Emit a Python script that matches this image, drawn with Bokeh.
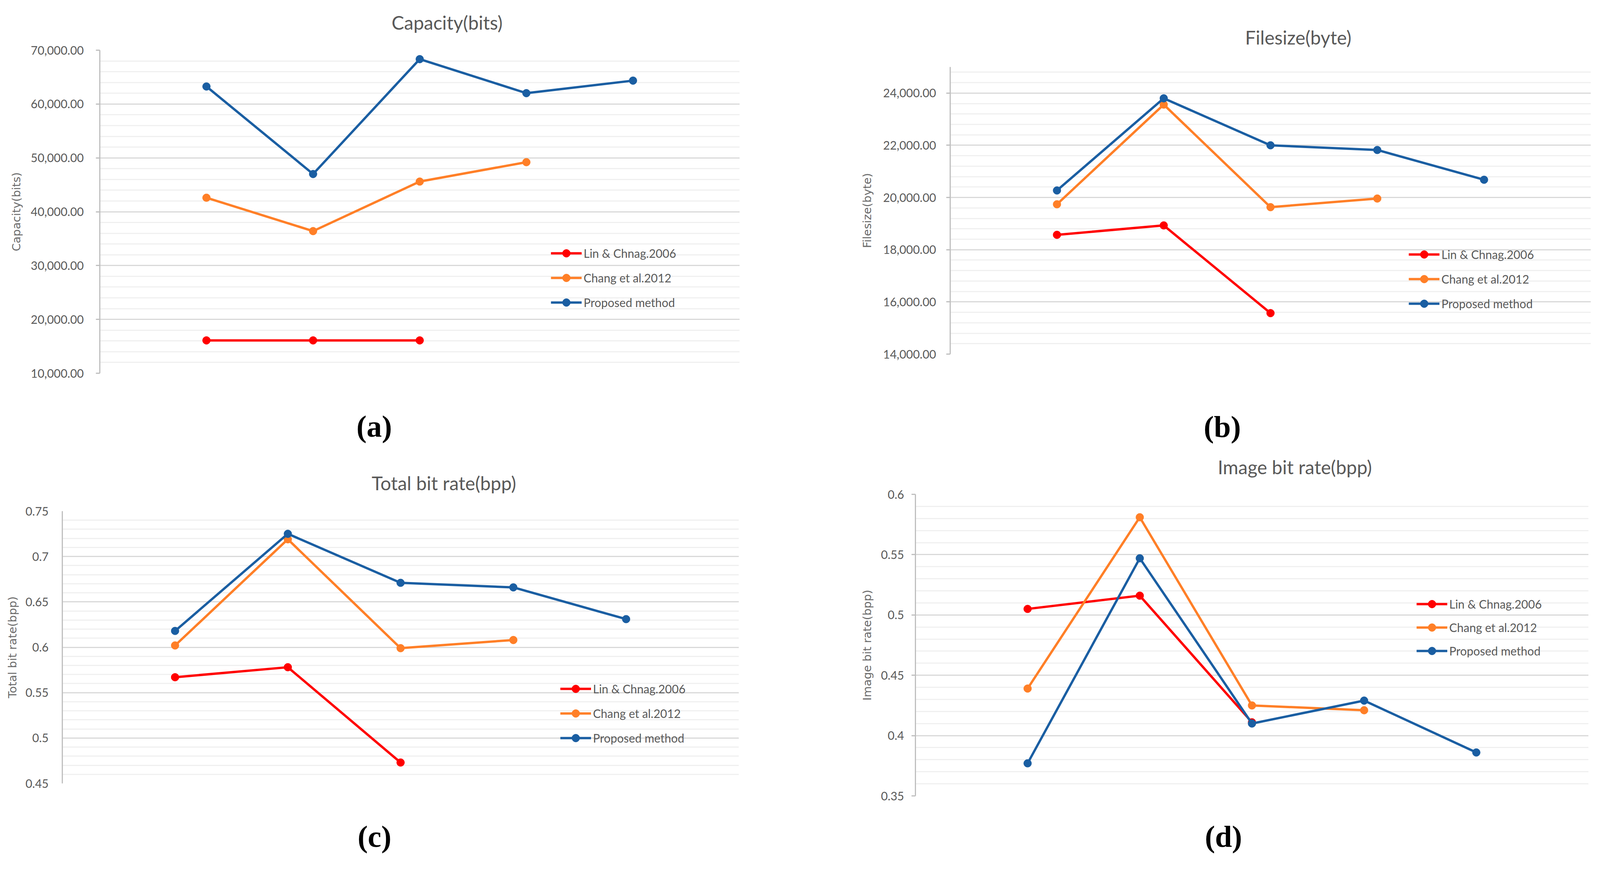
from bokeh.plotting import figure
from bokeh.models import (Range1d, FixedTicker, NumeralTickFormatter, CustomJSTickFormatter,
                          Legend, LegendItem, Title)
from bokeh.layouts import column, row
from bokeh.embed import file_html
from bokeh.resources import INLINE

# ---------------- data ----------------
images = [1, 2, 3, 4, 5]
series_names = ["Lin & Chnag.2006", "Chang et al.2012", "Proposed method"]
series_colors = ["#FF0000", "#FF7F27", "#1A5EA2"]

capacity_lin = [16100, 16100, 16100]
capacity_chang = [42600, 36400, 45600, 49200]
capacity_proposed = [63260, 47000, 68340, 62020, 64350]

filesize_lin = [18570, 18930, 15570]
filesize_chang = [19740, 23560, 19630, 19960]
filesize_proposed = [20270, 23800, 22000, 21820, 20680]

total_bpp_lin = [0.567, 0.578, 0.473]
total_bpp_chang = [0.602, 0.719, 0.599, 0.608]
total_bpp_proposed = [0.618, 0.725, 0.671, 0.666, 0.631]

image_bpp_lin = [0.505, 0.516, 0.411]
image_bpp_chang = [0.439, 0.581, 0.425, 0.421]
image_bpp_proposed = [0.377, 0.547, 0.410, 0.429, 0.386]

panel_titles = ["Capacity(bits)", "Filesize(byte)", "Total bit rate(bpp)", "Image bit rate(bpp)"]
panel_captions = ["(a)", "(b)", "(c)", "(d)"]

capacity_ticks = [10000, 20000, 30000, 40000, 50000, 60000, 70000]
filesize_ticks = [14000, 16000, 18000, 20000, 22000, 24000]
total_bpp_ticks = [0.45, 0.5, 0.55, 0.6, 0.65, 0.7, 0.75]
image_bpp_ticks = [0.35, 0.4, 0.45, 0.5, 0.55, 0.6]

GREY = "#595959"
TXT_FONT = "Lato"


def minor_list(start, stop, step, nd):
    out = []
    v = start
    while v <= stop + step * 1e-6:
        out.append(round(v, nd))
        v += step
    return out


def spacer(gap):
    return Title(text=" ", text_font_size="1px", standoff=gap, text_color="white")


def make_panel(width, height, frame, yr, ticks, minors, fmt, series, ytitle, title,
               title_off, title_gap, caption, caption_off, caption_gap,
               legend_loc, legend_spacing, tick_out, label_standoff, axis_standoff):
    fl, ft, fr, fb = frame
    p = figure(width=width, height=height, x_range=Range1d(0, 6), y_range=Range1d(*yr),
               output_backend="svg", toolbar_location=None,
               min_border_left=fl, min_border_top=ft,
               min_border_right=width - fr, min_border_bottom=height - fb)
    p.frame_align = False
    p.outline_line_color = None
    p.background_fill_color = "white"
    p.border_fill_color = "white"

    # spacer next to the frame, then the real title outside it
    p.add_layout(spacer(title_gap), "above")
    p.title = Title(text=title, align="left", offset=title_off, standoff=10,
                    vertical_align="bottom",
                    text_font=TXT_FONT, text_font_size="48px", text_font_style="normal",
                    text_color=GREY)
    p.add_layout(spacer(caption_gap), "below")
    p.add_layout(Title(text=caption, align="left", offset=caption_off,
                       standoff=10, vertical_align="top",
                       text_font="Liberation Serif", text_font_style="bold",
                       text_font_size="78px", text_color="black"), "below")

    tk = FixedTicker(ticks=ticks, minor_ticks=minors)
    p.yaxis.ticker = tk
    p.ygrid.ticker = tk
    p.yaxis.formatter = fmt
    p.yaxis.axis_line_color = "#BFBFBF"
    p.yaxis.axis_line_width = 3
    p.yaxis.major_tick_line_color = "#BFBFBF"
    p.yaxis.major_tick_line_width = 3
    p.yaxis.major_tick_out = tick_out
    p.yaxis.major_tick_in = 0
    p.yaxis.minor_tick_line_color = None
    p.yaxis.major_label_standoff = label_standoff
    p.yaxis.major_label_text_font = TXT_FONT
    p.yaxis.major_label_text_font_size = "30px"
    p.yaxis.major_label_text_color = GREY
    p.yaxis.axis_label = ytitle
    p.yaxis.axis_label_text_font = "DejaVu Sans"
    p.yaxis.axis_label_text_font_style = "normal"
    p.yaxis.axis_label_text_font_size = "29px"
    p.yaxis.axis_label_text_color = "#6A6A6A"
    p.yaxis.axis_label_standoff = axis_standoff
    p.xaxis.visible = False
    p.xgrid.visible = False
    p.ygrid.grid_line_color = "#D9D9D9"
    p.ygrid.grid_line_width = 3
    p.ygrid.minor_grid_line_color = "#F0F0F0"
    p.ygrid.minor_grid_line_width = 3

    items = []
    for name, color, ys in zip(series_names, series_colors, series):
        xs = images[:len(ys)]
        lr = p.line(xs, ys, line_color=color, line_width=6)
        sr = p.scatter(xs, ys, size=20, fill_color=color, line_color=color)
        items.append(LegendItem(label=name, renderers=[lr, sr]))

    legend = Legend(items=items, location=legend_loc, orientation="vertical",
                    padding=0, margin=0, spacing=legend_spacing,
                    glyph_width=79, glyph_height=50, label_height=50, label_standoff=5,
                    border_line_color=None, background_fill_alpha=0,
                    label_text_font=TXT_FONT, label_text_font_size="30px",
                    label_text_color=GREY)
    p.add_layout(legend)
    return p


thousands = NumeralTickFormatter(format="0,0.00")
short = CustomJSTickFormatter(code="return String(Math.round(tick*1000)/1000);")

pa = make_panel(2050, 1150, (255, 128, 1893, 955), (10000, 70000), capacity_ticks,
                minor_list(10000, 70000, 2000, 0), thousands,
                [capacity_lin, capacity_chang, capacity_proposed], panel_titles[0], panel_titles[0],
                747, 35, panel_captions[0], 657, 84,
                (1155, 156), 13, 10, 31, 17)

pb = make_panel(2047, 1150, (382, 171, 2022, 906), (14000, 25000), filesize_ticks,
                minor_list(14000, 24800, 400, 0), thousands,
                [filesize_lin, filesize_chang, filesize_proposed], panel_titles[1], panel_titles[1],
                755, 40, panel_captions[1], 649, 134,
                (1174, 104), 13, 10, 26, 21)

pc = make_panel(2050, 1074, (159, 158, 1891, 855), (0.45, 0.75), total_bpp_ticks,
                minor_list(0.45, 0.75, 0.01, 2), short,
                [total_bpp_lin, total_bpp_chang, total_bpp_proposed], panel_titles[2], panel_titles[2],
                792, 36, panel_captions[2], 756, 84,
                (1275, 91), 13, 0, 31, 13)

pd_ = make_panel(2047, 1074, (293, 115, 2016, 887), (0.35, 0.6), image_bpp_ticks,
                 minor_list(0.35, 0.6, 0.01, 2), short,
                 [image_bpp_lin, image_bpp_chang, image_bpp_proposed], panel_titles[3], panel_titles[3],
                 774, 34, panel_captions[3], 741, 52,
                 (1283, 346), 10, 10, 19, 15)

layout = column(row(pa, pb), row(pc, pd_))
open("out.html", "w").write(file_html(layout, INLINE))
